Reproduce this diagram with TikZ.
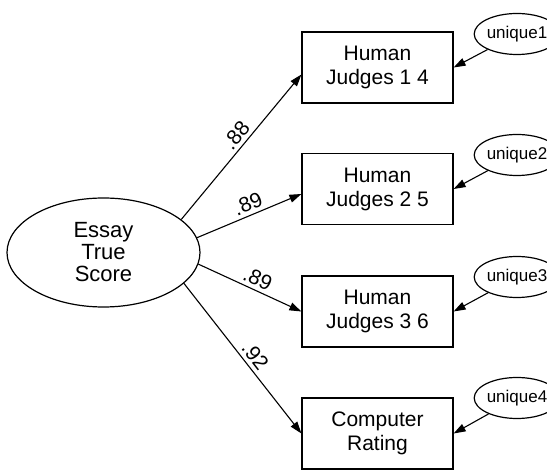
\documentclass[tikz,border=0pt]{standalone}
\usepackage{fontspec}
\setmainfont{Liberation Sans}
\usetikzlibrary{arrows.meta,shapes.geometric}
\begin{document}
\begin{tikzpicture}[x=1pt,y=-1pt,
  latent/.style={draw,ellipse,line width=1.2pt,inner sep=0pt},
  obsbox/.style={draw,rectangle,line width=1.2pt,minimum width=151pt,minimum height=71pt,inner sep=0pt,align=center,font=\fontsize{21}{24}\selectfont},
  uniq/.style={draw,ellipse,line width=1.2pt,minimum width=68pt,minimum height=41pt,inner sep=0pt,font=\fontsize{17}{19}\selectfont},
  path/.style={line width=1.1pt,-{Triangle[length=12pt,width=8pt]}},
  coef/.style={sloped,above,pos=0.53,font=\fontsize{21}{22}\selectfont,inner sep=3.5pt}]
\useasboundingbox (0,0) rectangle (547,470);
\node[latent,minimum width=193pt,minimum height=109pt,align=center,font=\fontsize{22}{22}\selectfont] (e) at (103.5,252.5) {Essay\\True\\Score};
\node[obsbox] (b1) at (377.5,67.5) {Human\\Judges 1 4};
\node[obsbox] (b2) at (377.5,189) {Human\\Judges 2 5};
\node[obsbox] (b3) at (377.5,311.5) {Human\\Judges 3 6};
\node[obsbox] (b4) at (377.5,433.5) {Computer\\Rating};
\node[uniq] (u1) at (517,34) {unique1};
\node[uniq] (u2) at (517,155) {unique2};
\node[uniq] (u3) at (517,277) {unique3};
\node[uniq] (u4) at (517,398) {unique4};
\coordinate (t1) at ([yshift=-7pt]b1.west);
\coordinate (t2) at ([yshift=-5pt]b2.west);
\coordinate (t3) at (b3.west);
\coordinate (t4) at (b4.west);
\draw[path] (e.23.5) -- node[coef] {.88} (t1);
\draw[path] (e.9) -- node[coef] {.89} (t2);
\draw[path] (e.-7.5) -- node[coef] {.89} (t3);
\draw[path] (e.-21) -- node[coef] {.92} (t4);
\draw[path] (u1) -- (b1.east);
\draw[path] (u2) -- (b2.east);
\draw[path] (u3) -- (b3.east);
\draw[path] (u4) -- (b4.east);
\end{tikzpicture}
\end{document}
